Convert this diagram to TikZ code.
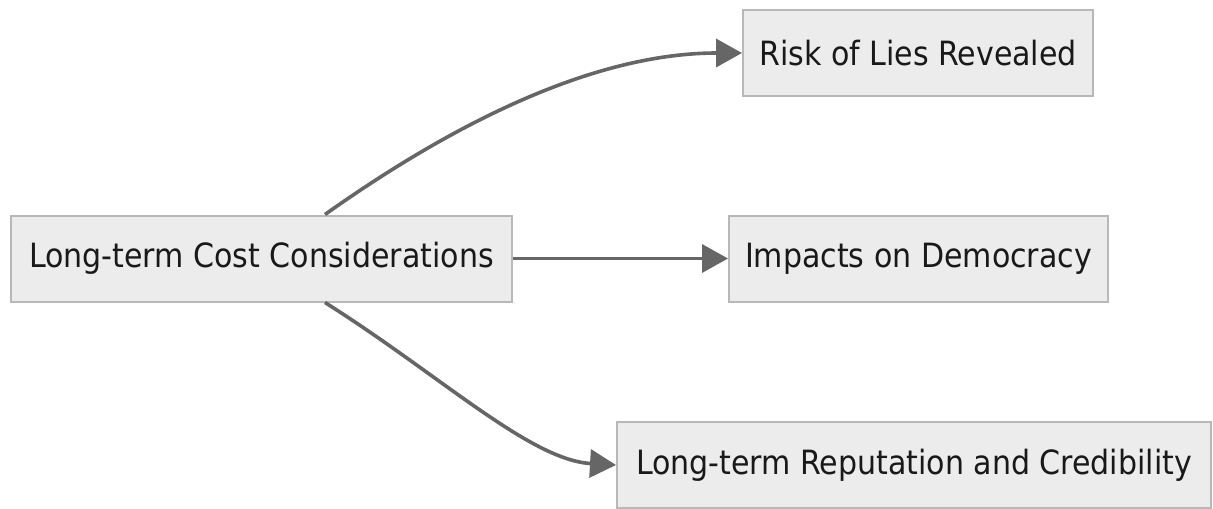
\documentclass[tikz,border=0pt]{standalone}
\usepackage{fontspec}
\setmainfont{DejaVu Sans Condensed}
\usetikzlibrary{arrows.meta}
\definecolor{boxfill}{HTML}{ECECEC}
\definecolor{boxline}{HTML}{B8B8B8}
\definecolor{linkgray}{HTML}{666666}
\begin{document}
\begin{tikzpicture}[x=0.5pt, y=-0.5pt,
	box/.style={draw=boxline, fill=boxfill, line width=1pt, minimum height=43pt, inner sep=0pt, text=black!90, font=\fontsize{16.7}{20}\selectfont},
	link/.style={draw=linkgray, line width=1.8pt, -{Triangle[length=13pt, width=14pt]}}]
	\useasboundingbox (0,0) rectangle (1213,508);
	% the four boxes
	\node[box, minimum width=250.5pt] (cost) at (261.5,258.5) {Long-term Cost Considerations};
	\node[box, minimum width=175pt] (risk) at (918,53) {Risk of Lies Revealed};
	\node[box, minimum width=189.5pt] (demo) at (918.5,258.5) {Impacts on Democracy};
	\node[box, minimum width=297pt] (repu) at (914,465) {Long-term Reputation and Credibility};
	% links
	\draw[link] ([xshift=31.75pt]cost.north) .. controls (430,140) and (580,53) .. (risk.west);
	\draw[link] (cost.east) -- (demo.west);
	\draw[link] ([xshift=31.75pt]cost.south) .. controls (440,375) and (530,460) .. (repu.west);
\end{tikzpicture}
\end{document}
